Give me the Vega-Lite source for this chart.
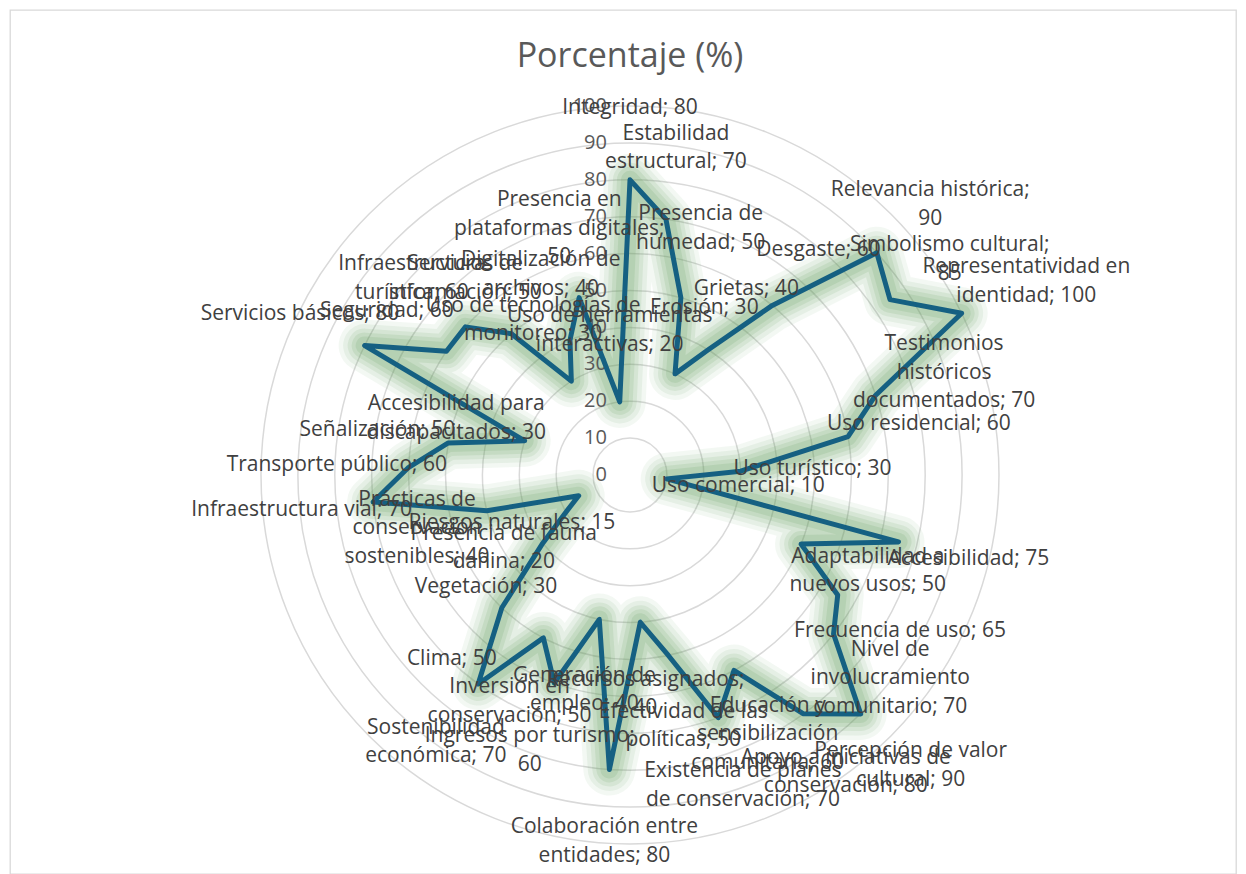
{
  "$schema": "https://vega.github.io/schema/vega-lite/v6.json",
  "width": 1226,
  "height": 864,
  "autosize": {"type": "none"},
  "padding": {"left": 10, "top": 10, "right": 10, "bottom": 0},
  "background": "white",
  "config": {"view": {"stroke": "#d9d9d9", "strokeWidth": 1.3}},
  "title": {"text": "Porcentaje (%)", "fontSize": 34, "font": "Open Sans", "fontWeight": "normal", "color": "#595959", "offset": 0, "dy": 64, "anchor": "middle", "frame": "group", "dx": 7},
  "datasets": {
    "d": [
      {"c": "Integridad", "v": 80, "lb": "Integridad; 80"},
      {"c": "Estabilidad estructural", "v": 70, "lb": "Estabilidad\nestructural; 70"},
      {"c": "Presencia de humedad", "v": 50, "lb": "Presencia de\nhumedad; 50"},
      {"c": "Erosión", "v": 30, "lb": "Erosión; 30"},
      {"c": "Grietas", "v": 40, "lb": "Grietas; 40"},
      {"c": "Desgaste", "v": 60, "lb": "Desgaste; 60"},
      {"c": "Relevancia histórica", "v": 90, "lb": "Relevancia histórica;\n90"},
      {"c": "Simbolismo cultural", "v": 85, "lb": "Simbolismo cultural;\n85"},
      {"c": "Representatividad en identidad", "v": 100, "lb": "Representatividad en\nidentidad; 100"},
      {"c": "Testimonios históricos documentados", "v": 70, "lb": "Testimonios\nhistóricos\ndocumentados; 70"},
      {"c": "Uso residencial", "v": 60, "lb": "Uso residencial; 60"},
      {"c": "Uso turístico", "v": 30, "lb": "Uso turístico; 30"},
      {"c": "Uso comercial", "v": 10, "lb": "Uso comercial; 10"},
      {"c": "Accesibilidad", "v": 75, "lb": "Accesibilidad; 75"},
      {"c": "Adaptabilidad a nuevos usos", "v": 50, "lb": "Adaptabilidad a\nnuevos usos; 50"},
      {"c": "Frecuencia de uso", "v": 65, "lb": "Frecuencia de uso; 65"},
      {"c": "Nivel de involucramiento comunitario", "v": 70, "lb": "Nivel de\ninvolucramiento\ncomunitario; 70"},
      {"c": "Percepción de valor cultural", "v": 90, "lb": "Percepción de valor\ncultural; 90"},
      {"c": "Apoyo a iniciativas de conservación", "v": 80, "lb": "Apoyo a iniciativas de\nconservación; 80"},
      {"c": "Educación y sensibilización comunitaria", "v": 60, "lb": "Educación y\nsensibilización\ncomunitaria; 60"},
      {"c": "Existencia de planes de conservación", "v": 70, "lb": "Existencia de planes\nde conservación; 70"},
      {"c": "Efectividad de las políticas", "v": 50, "lb": "Efectividad de las\npolíticas; 50"},
      {"c": "Recursos asignados", "v": 40, "lb": "Recursos asignados;\n40"},
      {"c": "Colaboración entre entidades", "v": 80, "lb": "Colaboración entre\nentidades; 80"},
      {"c": "Generación de empleo", "v": 40, "lb": "Generación de\nempleo; 40"},
      {"c": "Ingresos por turismo", "v": 60, "lb": "Ingresos por turismo;\n60"},
      {"c": "Inversión en conservación", "v": 50, "lb": "Inversión en\nconservación; 50"},
      {"c": "Sostenibilidad económica", "v": 70, "lb": "Sostenibilidad\neconómica; 70"},
      {"c": "Clima", "v": 50, "lb": "Clima; 50"},
      {"c": "Vegetación", "v": 30, "lb": "Vegetación; 30"},
      {"c": "Presencia de fauna dañina", "v": 20, "lb": "Presencia de fauna\ndañina; 20"},
      {"c": "Riesgos naturales", "v": 15, "lb": "Riesgos naturales; 15"},
      {"c": "Prácticas de conservación sostenibles", "v": 40, "lb": "Prácticas de\nconservación\nsostenibles; 40"},
      {"c": "Infraestructura vial", "v": 70, "lb": "Infraestructura vial; 70"},
      {"c": "Transporte público", "v": 60, "lb": "Transporte público; 60"},
      {"c": "Señalización", "v": 50, "lb": "Señalización; 50"},
      {"c": "Accesibilidad para discapacitados", "v": 30, "lb": "Accesibilidad para\ndiscapacitados; 30"},
      {"c": "Servicios básicos", "v": 80, "lb": "Servicios básicos; 80"},
      {"c": "Seguridad", "v": 60, "lb": "Seguridad; 60"},
      {"c": "Infraestructura turística", "v": 60, "lb": "Infraestructura\nturística; 60"},
      {"c": "Servicios de información", "v": 50, "lb": "Servicios de\ninformación; 50"},
      {"c": "Uso de tecnologías de monitoreo", "v": 30, "lb": "Uso de tecnologías de\nmonitoreo; 30"},
      {"c": "Digitalización de archivos", "v": 40, "lb": "Digitalización de\narchivos; 40"},
      {"c": "Presencia en plataformas digitales", "v": 50, "lb": "Presencia en\nplataformas digitales;\n50"},
      {"c": "Uso de herramientas interactivas", "v": 20, "lb": "Uso de herramientas\ninteractivas; 20"}
    ],
    "ticks": [
      {"t": 0}, {"t": 10}, {"t": 20}, {"t": 30}, {"t": 40}, {"t": 50},
      {"t": 60}, {"t": 70}, {"t": 80}, {"t": 90}, {"t": 100}
    ]
  },
  "layer": [
    {
      "data": {"name": "ticks"},
      "transform": [{"filter": "datum.t > 0"}],
      "mark": {"type": "point", "shape": "circle", "filled": false, "stroke": "#d9d9d9", "strokeWidth": 1.5, "opacity": 1},
      "encoding": {
        "x": {"datum": 0, "type": "quantitative", "scale": {"domain": [-168.02, 164.23], "nice": false, "zero": false}, "axis": null},
        "y": {"datum": 0, "type": "quantitative", "scale": {"domain": [-108.13, 126.02], "nice": false, "zero": false}, "axis": null},
        "size": {"field": "t", "type": "quantitative", "scale": {"type": "pow", "exponent": 2, "domain": [0, 100], "range": [0, 544644], "zero": true}, "legend": null}
      }
    },
    {
      "data": {"name": "d"},
      "transform": [
        {"window": [{"op": "row_number", "as": "rn"}]},
        {"calculate": "(datum.rn - 1) * 2 * PI / 45", "as": "a"},
        {"calculate": "datum.v * sin(datum.a)", "as": "x"},
        {"calculate": "datum.v * cos(datum.a)", "as": "y"}
      ],
      "mark": {"type": "line", "interpolate": "linear-closed", "color": "#5b9b55", "strokeWidth": 52, "opacity": 0.07, "strokeJoin": "round"},
      "encoding": {
        "x": {"field": "x", "type": "quantitative"},
        "y": {"field": "y", "type": "quantitative"},
        "order": {"field": "rn", "type": "quantitative"}
      }
    },
    {
      "data": {"name": "d"},
      "transform": [
        {"window": [{"op": "row_number", "as": "rn"}]},
        {"calculate": "(datum.rn - 1) * 2 * PI / 45", "as": "a"},
        {"calculate": "datum.v * sin(datum.a)", "as": "x"},
        {"calculate": "datum.v * cos(datum.a)", "as": "y"}
      ],
      "mark": {"type": "line", "interpolate": "linear-closed", "color": "#5b9b55", "strokeWidth": 43, "opacity": 0.09, "strokeJoin": "round"},
      "encoding": {
        "x": {"field": "x", "type": "quantitative"},
        "y": {"field": "y", "type": "quantitative"},
        "order": {"field": "rn", "type": "quantitative"}
      }
    },
    {
      "data": {"name": "d"},
      "transform": [
        {"window": [{"op": "row_number", "as": "rn"}]},
        {"calculate": "(datum.rn - 1) * 2 * PI / 45", "as": "a"},
        {"calculate": "datum.v * sin(datum.a)", "as": "x"},
        {"calculate": "datum.v * cos(datum.a)", "as": "y"}
      ],
      "mark": {"type": "line", "interpolate": "linear-closed", "color": "#5b9b55", "strokeWidth": 34, "opacity": 0.11, "strokeJoin": "round"},
      "encoding": {
        "x": {"field": "x", "type": "quantitative"},
        "y": {"field": "y", "type": "quantitative"},
        "order": {"field": "rn", "type": "quantitative"}
      }
    },
    {
      "data": {"name": "d"},
      "transform": [
        {"window": [{"op": "row_number", "as": "rn"}]},
        {"calculate": "(datum.rn - 1) * 2 * PI / 45", "as": "a"},
        {"calculate": "datum.v * sin(datum.a)", "as": "x"},
        {"calculate": "datum.v * cos(datum.a)", "as": "y"}
      ],
      "mark": {"type": "line", "interpolate": "linear-closed", "color": "#5b9b55", "strokeWidth": 26, "opacity": 0.13, "strokeJoin": "round"},
      "encoding": {
        "x": {"field": "x", "type": "quantitative"},
        "y": {"field": "y", "type": "quantitative"},
        "order": {"field": "rn", "type": "quantitative"}
      }
    },
    {
      "data": {"name": "d"},
      "transform": [
        {"window": [{"op": "row_number", "as": "rn"}]},
        {"calculate": "(datum.rn - 1) * 2 * PI / 45", "as": "a"},
        {"calculate": "datum.v * sin(datum.a)", "as": "x"},
        {"calculate": "datum.v * cos(datum.a)", "as": "y"}
      ],
      "mark": {"type": "line", "interpolate": "linear-closed", "color": "#5b9b55", "strokeWidth": 18, "opacity": 0.15, "strokeJoin": "round"},
      "encoding": {
        "x": {"field": "x", "type": "quantitative"},
        "y": {"field": "y", "type": "quantitative"},
        "order": {"field": "rn", "type": "quantitative"}
      }
    },
    {
      "data": {"name": "ticks"},
      "mark": {"type": "text", "align": "right", "baseline": "middle", "dx": -23, "font": "Open Sans", "fontSize": 20, "color": "#595959"},
      "encoding": {
        "x": {"datum": 0, "type": "quantitative"},
        "y": {"field": "t", "type": "quantitative"},
        "text": {"field": "t", "type": "quantitative"}
      }
    },
    {
      "data": {"name": "d"},
      "transform": [
        {"window": [{"op": "row_number", "as": "rn"}]},
        {"calculate": "(datum.rn - 1) * 2 * PI / 45", "as": "a"},
        {"calculate": "datum.v * sin(datum.a)", "as": "x"},
        {"calculate": "datum.v * cos(datum.a)", "as": "y"}
      ],
      "mark": {"type": "line", "interpolate": "linear-closed", "color": "#156082", "strokeWidth": 5, "strokeJoin": "round"},
      "encoding": {
        "x": {"field": "x", "type": "quantitative"},
        "y": {"field": "y", "type": "quantitative"},
        "order": {"field": "rn", "type": "quantitative"}
      }
    },
    {
      "data": {"name": "d"},
      "transform": [
        {"window": [{"op": "row_number", "as": "rn"}]},
        {"calculate": "(datum.rn - 1) * 2 * PI / 45", "as": "a"},
        {"calculate": "length(split(datum.lb, '\\n'))", "as": "nl"},
        {"calculate": "(datum.v + 19.5) * sin(datum.a)", "as": "lx"},
        {"calculate": "(datum.v + 19.5) * cos(datum.a) + (datum.nl - 1) * 3.86", "as": "ly"}
      ],
      "mark": {"type": "text", "align": "center", "baseline": "middle", "lineBreak": "\n", "lineHeight": 28.5, "font": "Open Sans", "fontSize": 21, "color": "#404040"},
      "encoding": {
        "x": {"field": "lx", "type": "quantitative"},
        "y": {"field": "ly", "type": "quantitative"},
        "text": {"field": "lb"}
      }
    }
  ]
}
